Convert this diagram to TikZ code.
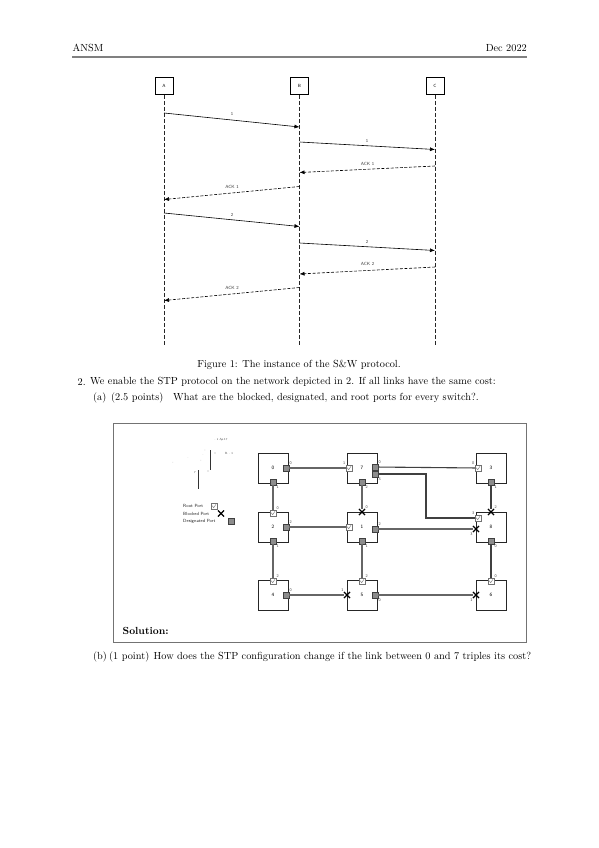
\documentclass[tikz,border=0pt]{standalone}
\usepackage{fontspec}
\usetikzlibrary{arrows.meta,shapes.misc,calc}
\begin{document}
\begin{tikzpicture}[x=1pt,y=-1pt,
  body/.style={font=\fontsize{10.3}{12}\selectfont, inner sep=0, anchor=west},
  seqbox/.style={draw, line width=0.9pt, minimum width=18pt, minimum height=17pt, inner sep=0, font=\fontsize{4.5}{5}\sffamily},
  life/.style={dash pattern=on 4pt off 2pt, line width=0.5pt, black!85},
  msg/.style={-{Latex[length=5pt,width=4pt]}, line width=0.6pt},
  ack/.style={msg, dash pattern=on 3pt off 1.6pt},
  mlab/.style={font=\fontsize{4.5}{5}\sffamily, inner sep=0, text=black!80},
  sw/.style={draw=black!85, line width=0.8pt, minimum width=30pt, minimum height=30pt, inner sep=0, font=\fontsize{5}{5}\sffamily},
  plab/.style={font=\fontsize{4}{4}\sffamily, inner sep=0.3pt, text=black!75},
  dport/.style={draw=black!75, fill=black!45, line width=0.4pt, minimum width=6pt, minimum height=6pt, inner sep=0},
  rport/.style={draw=black!55, fill=white, line width=0.4pt, minimum width=6pt, minimum height=6pt, inner sep=0,
    path picture={\draw[black!60, line width=0.35pt]
      ([xshift=1.2pt,yshift=0.3pt]path picture bounding box.west) --
      ([xshift=-0.3pt,yshift=1.3pt]path picture bounding box.south) --
      ([xshift=-1pt,yshift=-1.2pt]path picture bounding box.north east);}},
  bport/.style={cross out, draw=black, line width=1.1pt, minimum width=5pt, minimum height=5pt, inner sep=0},
  link/.style={draw=black!60, line width=1.1pt},
  legtxt/.style={font=\fontsize{4.5}{5}\sffamily, inner sep=0, anchor=west, text=black!85},
  junk/.style={font=\fontsize{3}{3}\sffamily, inner sep=0, text=black!70}
]
\useasboundingbox[fill=white] (0,0) rectangle (599,848);

% ---------- header ----------
\node[body] (hl) at (72.5,48) {ANSM};
\node[body, anchor=east] (hr) at (527,48) {Dec 2022};
\draw[black!50, line width=1.2pt] (72,57) -- (527,57);

% ---------- sequence diagram ----------
\node[seqbox] (A) at (164,86) {A};
\node[seqbox] (B) at (299.5,86) {B};
\node[seqbox] (C) at (435,86) {C};
\coordinate (Aend) at (164,345);
\coordinate (Bend) at (299.5,345);
\coordinate (Cend) at (435,345);
\draw[life] (A.south) -- (Aend);
\draw[life] (B.south) -- (Bend);
\draw[life] (C.south) -- (Cend);

\coordinate (m1s) at (164,113);   \coordinate (m1e) at (299.5,127);
\coordinate (m2s) at (299.5,142); \coordinate (m2e) at (435,149.5);
\coordinate (m3s) at (435,166);   \coordinate (m3e) at (299.5,172.5);
\coordinate (m4s) at (299.5,186.5); \coordinate (m4e) at (164,199.5);
\coordinate (m5s) at (164,213);   \coordinate (m5e) at (299.5,226.5);
\coordinate (m6s) at (299.5,243); \coordinate (m6e) at (435,250.5);
\coordinate (m7s) at (435,267);   \coordinate (m7e) at (299.5,274);
\coordinate (m8s) at (299.5,287.5); \coordinate (m8e) at (164,300.5);

\draw[msg] (m1s) -- (m1e);
\draw[msg] (m2s) -- (m2e);
\draw[ack] (m3s) -- (m3e);
\draw[ack] (m4s) -- (m4e);
\draw[msg] (m5s) -- (m5e);
\draw[msg] (m6s) -- (m6e);
\draw[ack] (m7s) -- (m7e);
\draw[ack] (m8s) -- (m8e);

\node[mlab] (l1) at (232,114) {1};
\node[mlab] (l2) at (367,141) {1};
\node[mlab] (l3) at (367.5,164) {ACK 1};
\node[mlab] (l4) at (232,187) {ACK 1};
\node[mlab] (l5) at (232,215) {2};
\node[mlab] (l6) at (367,241.5) {2};
\node[mlab] (l7) at (367.5,264) {ACK 2};
\node[mlab] (l8) at (232,288) {ACK 2};

% ---------- texts ----------
\node[body, anchor=center] (cap) at (299,365) {Figure 1: The instance of the S\&W protocol.};
\node[body] (n2) at (77.5,382) {2.};
\node[body] (t2) at (90,382) {We enable the STP protocol on the network depicted in 2. If all links have the same cost:};
\node[body] (na) at (93,398) {(a)};
\node[body] (pa) at (111,398) {(2.5 points)};
\node[body] (ta) at (173,398) {What are the blocked, designated, and root ports for every switch?.};

\draw[black!55, line width=1pt] (113,423.5) rectangle (526,642);
\node[body, font=\fontsize{10.3}{12}\selectfont\bfseries] (sol) at (122.5,631) {Solution:};

\node[body] (nb) at (93,657) {(b)};
\node[body] (pb) at (109,657) {(1 point)};
\node[body] (tb) at (153.5,657) {How does the STP configuration change if the link between 0 and 7 triples its cost?};

% ---------- switches ----------
\node[sw] (s0) at (273,468) {0};
\node[sw] (s7) at (362,468) {7};
\node[sw] (s3) at (491,468) {3};
\node[sw] (s2) at (273,527) {2};
\node[sw] (s1) at (362,527) {1};
\node[sw] (s8) at (491,527) {8};
\node[sw] (s4) at (273,595) {4};
\node[sw] (s5) at (362,595) {5};
\node[sw] (s6) at (491,595) {6};

% ---------- ports ----------
\node[dport, label={[plab]above right:0}] (p0r) at (286,468) {};
\node[dport, label={[plab]below right:1}] (p0b) at (273,482) {};

\node[rport, label={[plab]above left:1}] (p7l) at (349,468) {};
\node[dport, label={[plab]below right:2}] (p7b) at (362,482) {};
\node[dport, label={[plab]above right:0}] (p7r1) at (375,467) {};
\node[dport, label={[plab]below right:3}] (p7r2) at (375,474) {};

\node[rport, label={[plab]above left:0}] (p3l) at (478,468) {};
\node[dport, label={[plab]below right:1}] (p3b) at (491,482) {};

\node[rport, label={[plab]above right:0}] (p2t) at (273,513) {};
\node[dport, label={[plab]above right:2}] (p2r) at (286,527) {};
\node[dport, label={[plab]below right:1}] (p2b) at (273,541) {};

\node[bport, label={[plab]above right:0}] (p1t) at (362,512) {};
\node[rport] (p1l) at (349,527) {};
\node[dport, label={[plab]above right:2}] (p1r) at (375,529) {};
\node[dport, label={[plab]below right:1}] (p1b) at (362,541) {};

\node[bport, label={[plab]above right:2}] (p8t) at (491,512) {};
\node[rport, label={[plab]above left:3}] (p8l1) at (478,518) {};
\node[bport, label={[plab]below left:3}] (p8l2) at (476,529) {};
\node[dport, label={[plab]below right:0}] (p8b) at (491,541) {};

\node[rport, label={[plab]above right:2}] (p4t) at (273,581) {};
\node[dport, label={[plab]above right:0}] (p4r) at (286,595) {};

\node[rport, label={[plab]above right:2}] (p5t) at (362,581) {};
\node[bport, label={[plab]above left:1}] (p5l) at (347,595) {};
\node[dport, label={[plab]below right:0}] (p5r) at (375,595) {};

\node[rport, label={[plab]above right:0}] (p6t) at (491,581) {};
\node[bport, label={[plab]below left:1}] (p6l) at (476,595) {};

% ---------- links ----------
\coordinate (c78) at (426,500);
\draw[link] (p0r) -- (p7l);
\draw[link] (p0b) -- (p2t);
\draw[link] (p7b) -- (p1t);
\draw[link] (p2r) -- (p1l);
\draw[link, draw=black!75] (p7r1) -- (p3l);
\draw[link, draw=black!75] (p7r2) -- (p7r2 -| c78) -- (c78 |- p8l1) -- (p8l1);
\draw[link] (p1r) -- (p8l2);
\draw[link, draw=black!75] (p3b) -- (p8t);
\draw[link] (p2b) -- (p4t);
\draw[link] (p1b) -- (p5t);
\draw[link] (p4r) -- (p5l);
\draw[link] (p5r) -- (p6l);
\draw[link, draw=black!75] (p8b) -- (p6t);

% ---------- legend ----------
\node[legtxt] (lg1) at (183,506) {Root Port};
\node[rport] (lg1i) at (214,506) {};
\node[legtxt] (lg2) at (183,513.5) {Blocked Port};
\node[bport] (lg2i) at (221,513.5) {};
\node[legtxt] (lg3) at (183,521) {Designated Port};
\node[dport] (lg3i) at (231,521) {};

% ---------- stray fragments ----------
\draw[black!80, line width=0.8pt] (210,450) -- (210,470);
\draw[black!80, line width=0.8pt] (198,470) -- (198,489);
\node[junk] (j1) at (221,440) {. ii Ap.17};
\node[junk] (j2) at (229,453) {B. . 1};
\node[junk] (j3) at (173,463) {'};
\node[junk] (j4) at (188,458) {.};
\node[junk] (j5) at (201,461) {'};
\node[junk] (j6) at (203,455) {.};
\node[junk] (j7) at (205,451) {:};
\node[junk] (j8) at (215,454) {=};
\node[junk] (j9) at (195,473) {7};
\node[junk] (j10) at (208,472) {=};
\end{tikzpicture}
\end{document}
